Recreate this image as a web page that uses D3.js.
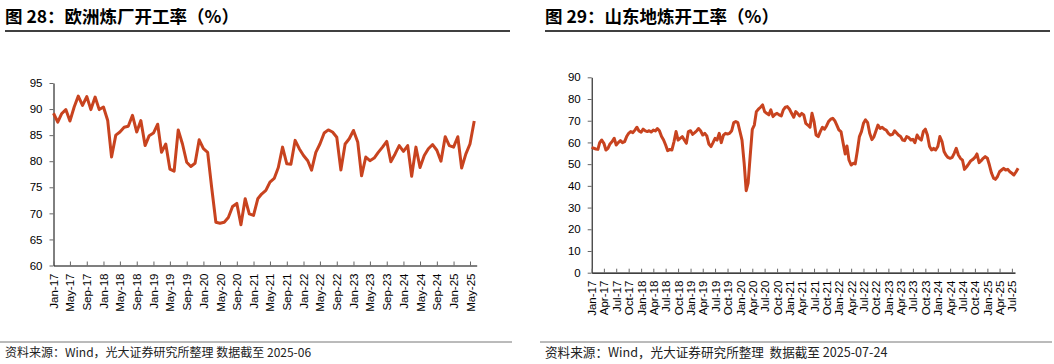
<!DOCTYPE html>
<html>
<head>
<meta charset="utf-8">
<script src="https://cdn.jsdelivr.net/npm/d3@7"></script>
<style>
body { margin: 0; background: #fff; }
svg { display: block; }
.axis text { font-family: "Liberation Sans", Arial, sans-serif; font-size: 11.5px; fill: #000; }
.title { font-family: "Noto Sans CJK SC", sans-serif; font-size: 17.5px; font-weight: bold; fill: #000; }
.source { font-family: "Noto Sans CJK SC", sans-serif; fill: #222; white-space: pre; }
</style>
</head>
<body>
<div id="chart"></div>
<script>
// 欧洲炼厂开工率, monthly from Jan-17
let euroStart = [2017, 0];
let euroRates = [
    89.2, 87.5, 89.1, 89.9, 87.7, 90.4, 92.5, 90.7, 92.4, 89.9, 92.3, 89.9,
    90.4, 87.8, 80.8, 85.0, 85.6, 86.5, 86.7, 88.8, 85.6, 87.8, 83.0, 84.9,
    85.4, 87.1, 81.7, 83.3, 78.5, 78.1, 86.0, 83.3, 79.8, 79.0, 79.6, 84.1,
    82.4, 81.7, 75.0, 68.3, 68.1, 68.3, 69.2, 71.3, 71.9, 67.8, 72.8, 69.9,
    69.6, 72.8, 73.7, 74.4, 76.0, 76.7, 78.8, 82.7, 79.5, 79.4, 84.0, 82.4,
    81.1, 80.1, 78.3, 81.7, 83.3, 85.4, 86.0, 85.6, 84.6, 78.3, 83.3, 84.3,
    85.9, 83.7, 77.2, 80.8, 80.1, 80.6, 81.7, 82.7, 83.8, 79.9, 81.4, 83.0,
    81.9, 83.0, 77.1, 82.7, 78.8, 81.1, 82.4, 83.2, 82.1, 80.0, 84.7, 83.0,
    82.7, 84.7, 78.7, 81.4, 83.3, 87.7
];
let euroYTicks = [60, 65, 70, 75, 80, 85, 90, 95];

// 山东地炼开工率, twice a month (1st, 16th) from Jan-17
let sdStart = [2017, 0];
let sdRates = [
    57.8, 57.3, 57.0, 56.8, 59.9, 61.1, 59.6, 56.5, 57.3, 59.3, 60.4, 61.9,
    58.8, 59.9, 60.8, 59.9, 60.4, 62.7, 64.2, 65.0, 64.5, 65.7, 67.0, 65.3,
    64.7, 66.1, 65.3, 65.0, 65.4, 64.8, 65.7, 65.3, 66.4, 65.4, 62.7, 61.1,
    58.8, 56.2, 56.8, 56.5, 60.4, 65.0, 61.1, 61.9, 62.7, 61.1, 59.6, 65.0,
    65.4, 63.7, 64.5, 65.4, 66.4, 65.4, 63.4, 64.2, 63.0, 59.3, 58.1, 59.9,
    61.9, 61.1, 64.2, 59.9, 63.4, 64.2, 63.9, 64.2, 65.4, 69.1, 69.6, 69.1,
    65.0, 61.1, 50.4, 37.8, 41.2, 53.5, 66.0, 68.0, 74.2, 75.3, 76.2, 77.3,
    74.2, 73.4, 72.7, 75.0, 71.9, 72.9, 73.4, 72.7, 72.2, 75.0, 76.2, 76.5,
    75.3, 73.4, 71.6, 74.2, 73.4, 72.2, 73.4, 72.7, 68.8, 68.0, 67.0, 73.4,
    69.6, 63.4, 62.7, 65.0, 67.0, 66.1, 67.6, 69.6, 70.7, 71.1, 70.0, 68.0,
    65.7, 65.0, 59.6, 54.7, 58.4, 51.9, 49.6, 50.4, 50.1, 55.8, 62.7, 65.0,
    68.8, 70.4, 69.1, 64.2, 61.3, 62.6, 65.3, 68.0, 66.5, 67.0, 66.1, 65.7,
    64.2, 63.4, 63.7, 65.4, 64.5, 63.4, 62.7, 61.1, 60.8, 62.7, 62.2, 61.1,
    61.4, 59.9, 63.4, 61.9, 61.1, 65.0, 66.1, 63.4, 58.1, 56.5, 57.3, 56.5,
    58.1, 62.7, 60.4, 55.8, 54.2, 53.1, 52.7, 53.1, 55.0, 57.3, 54.2, 52.7,
    51.9, 47.6, 48.8, 50.1, 51.6, 52.2, 53.1, 54.7, 50.7, 51.6, 52.7, 53.5,
    52.7, 49.6, 45.8, 43.5, 43.0, 44.2, 46.5, 47.3, 48.1, 47.3, 47.6, 46.5,
    45.8, 45.0, 46.5, 48.1
];
let sdYTicks = [0, 10, 20, 30, 40, 50, 60, 70, 80, 90];

let euroData = euroRates.map((v, i) => ({ date: new Date(euroStart[0], euroStart[1] + i, 1), value: v }));
let sdData = sdRates.map((v, i) => ({
    date: new Date(sdStart[0], sdStart[1] + Math.floor(i / 2), i % 2 ? 16 : 1),
    value: v
}));

let svg = d3.select('#chart').append('svg')
    .attr('width', 1054)
    .attr('height', 364);

function drawPanel(p) {
    let g = svg.append('g');

    g.append('text').classed('title', true)
        .attr('x', p.left).attr('y', 23)
        .text(p.title);
    g.append('line')
        .attr('x1', p.left).attr('x2', p.right)
        .attr('y1', 31).attr('y2', 31)
        .attr('stroke', '#000').attr('stroke-width', 1.3);

    let x = d3.scaleTime().domain(p.xDomain).range([p.x0, p.x1]);
    let y = d3.scaleLinear().domain(p.yDomain).range([p.y0, p.y1]);

    let yAxis = d3.axisLeft(y)
        .tickValues(p.yTicks)
        .tickSizeInner(4)
        .tickSizeOuter(0)
        .tickPadding(7);
    let yg = g.append('g').classed('axis', true)
        .attr('transform', `translate(${p.x0},0)`)
        .call(yAxis);
    yg.select('.domain').attr('stroke', '#000');
    yg.selectAll('.tick line').attr('stroke', '#666');

    let xAxis = d3.axisBottom(x)
        .ticks(d3.timeMonth.every(p.monthStep))
        .tickFormat(d3.timeFormat('%b-%y'))
        .tickSizeInner(-4)
        .tickSizeOuter(0);
    let xg = g.append('g').classed('axis', true)
        .attr('transform', `translate(0,${p.y0})`)
        .call(xAxis);
    xg.select('.domain').attr('stroke', '#000').attr('stroke-width', 1.2);
    xg.selectAll('.tick line').attr('stroke', '#666');
    xg.selectAll('.tick text')
        .attr('transform', 'rotate(-90)')
        .attr('text-anchor', 'end')
        .attr('x', -8)
        .attr('y', 0)
        .attr('dy', '0.35em');

    let line = d3.line()
        .x(d => x(d.date))
        .y(d => y(d.value));
    g.append('path')
        .datum(p.data)
        .attr('d', line)
        .attr('fill', 'none')
        .attr('stroke', '#C8431F')
        .attr('stroke-width', 3)
        .attr('stroke-linejoin', 'round');

    g.append('line')
        .attr('x1', p.left - 5).attr('x2', p.right + 2)
        .attr('y1', 342).attr('y2', 342)
        .attr('stroke', '#777').attr('stroke-width', 1);
    g.append('text').classed('source', true)
        .attr('x', p.left).attr('y', 357)
        .style('font-size', p.sourceSize + 'px')
        .text(p.source);
}

drawPanel({
    title: '图 28：欧洲炼厂开工率（%）',
    source: '资料来源：Wind，光大证券研究所整理 数据截至 2025-06',
    sourceSize: 12,
    left: 5, right: 510,
    x0: 53.5, x1: 476.7, y0: 265.5, y1: 83,
    xDomain: [new Date(2017, 0, 1), new Date(2025, 5, 19)],
    yDomain: [60, 95],
    yTicks: euroYTicks,
    monthStep: 4,
    data: euroData
});

drawPanel({
    title: '图 29：山东地炼开工率（%）',
    source: '资料来源：Wind，光大证券研究所整理  数据截至 2025-07-24',
    sourceSize: 12.6,
    left: 545, right: 1050,
    x0: 591.7, x1: 1015, y0: 272.7, y1: 77.3,
    xDomain: [new Date(2017, 0, 1), new Date(2025, 6, 24)],
    yDomain: [0, 90],
    yTicks: sdYTicks,
    monthStep: 3,
    data: sdData
});
</script>
</body>
</html>
